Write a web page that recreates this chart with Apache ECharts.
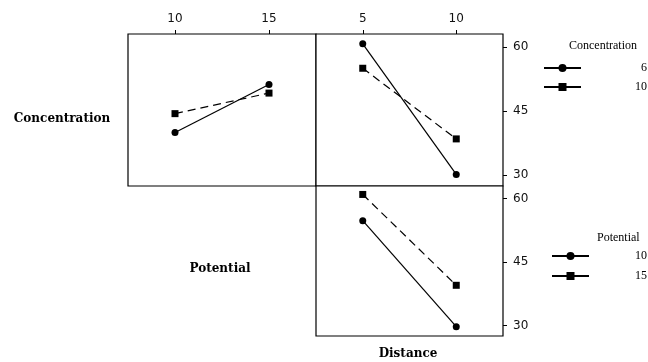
<!DOCTYPE html>
<html>
<head>
<meta charset="utf-8">
<script src="https://cdn.jsdelivr.net/npm/echarts@6/dist/echarts.min.js"></script>
<style>
  html, body { margin: 0; padding: 0; background: #fff; }
  #main { width: 648px; height: 362px; }
</style>
</head>
<body>
<div id="main"></div>
<script>
// Interaction plot data (response)
var potentialLevels = [10, 15];
var distanceLevels = [5, 10];
var responseTicks = [30, 45, 60];

var conc6ByPotential = [40.0, 51.2];
var conc10ByPotential = [44.4, 49.2];
var conc6ByDistance = [60.7, 30.2];
var conc10ByDistance = [55.0, 38.5];
var pot10ByDistance = [54.8, 29.7];
var pot15ByDistance = [61.0, 39.5];

var legendNames = { C6: '6', C10: '10', P10: '10', P15: '15' };

function pairs(xs, ys) {
    return xs.map(function (x, i) { return [x, ys[i]]; });
}

var chart = echarts.init(document.getElementById('main'));

var tickFont = { fontFamily: 'DejaVu Sans', fontSize: 12, color: '#111' };
var solid = { color: '#000', width: 1.2, type: 'solid' };
var dashed = { color: '#000', width: 1.2, type: [8, 5] };

function frame(left, top, width, height) {
    return { left: left, top: top, width: width, height: height, show: true,
             borderColor: '#000', borderWidth: 1.2, backgroundColor: '#fff' };
}

function mkSeries(name, grid, data, isSquare) {
    return {
        name: name, type: 'line',
        xAxisIndex: grid, yAxisIndex: grid,
        data: data,
        symbol: isSquare ? 'rect' : 'circle',
        symbolSize: 7,
        itemStyle: { color: '#000' },
        lineStyle: isSquare ? dashed : solid,
        clip: false,
        animation: false
    };
}

option = {
    backgroundColor: '#fff',
    grid: [
        frame(128, 34, 188, 152),
        frame(316, 34, 187, 152),
        frame(316, 186, 187, 150)
    ],
    xAxis: [
        {
            gridIndex: 0, type: 'value', position: 'top',
            min: 7.5, max: 17.5,
            axisLine: { show: false },
            splitLine: { show: false },
            axisTick: { show: true, customValues: potentialLevels, length: 4, lineStyle: { color: '#000' } },
            axisLabel: { customValues: potentialLevels, margin: 9, textStyle: tickFont }
        },
        {
            gridIndex: 1, type: 'value', position: 'top',
            min: 2.5, max: 12.5,
            axisLine: { show: false },
            splitLine: { show: false },
            axisTick: { show: true, customValues: distanceLevels, length: 4, lineStyle: { color: '#000' } },
            axisLabel: { customValues: distanceLevels, margin: 9, textStyle: tickFont }
        },
        {
            gridIndex: 2, type: 'value', position: 'bottom',
            min: 2.5, max: 12.5,
            axisLine: { show: false },
            splitLine: { show: false },
            axisTick: { show: false },
            axisLabel: { show: false }
        }
    ],
    yAxis: [
        {
            gridIndex: 0, type: 'value', min: 27.5, max: 63,
            axisLine: { show: false }, splitLine: { show: false },
            axisTick: { show: false }, axisLabel: { show: false }
        },
        {
            gridIndex: 1, type: 'value', position: 'right', min: 27.5, max: 63,
            axisLine: { show: false }, splitLine: { show: false },
            axisTick: { show: true, customValues: responseTicks, length: 4, lineStyle: { color: '#000' } },
            axisLabel: { customValues: responseTicks, margin: 10, textStyle: tickFont }
        },
        {
            gridIndex: 2, type: 'value', position: 'right', min: 27.5, max: 63,
            axisLine: { show: false }, splitLine: { show: false },
            axisTick: { show: true, customValues: responseTicks, length: 4, lineStyle: { color: '#000' } },
            axisLabel: { customValues: responseTicks, margin: 10, textStyle: tickFont }
        }
    ],
    legend: [
        {
            data: ['C6', 'C10'],
            orient: 'vertical', left: 543, top: 62, padding: 0,
            itemWidth: 37, itemHeight: 10, itemGap: 7,
            selectedMode: false,
            lineStyle: { type: 'solid' },
            formatter: function (n) { return '{v|' + legendNames[n] + '}'; },
            textStyle: { fontFamily: 'Liberation Serif', fontSize: 12, color: '#000',
                         rich: { v: { width: 61, align: 'right', lineHeight: 10 } } }
        },
        {
            data: ['P10', 'P15'],
            orient: 'vertical', left: 551, top: 250, padding: 0,
            itemWidth: 37, itemHeight: 10, itemGap: 8,
            selectedMode: false,
            lineStyle: { type: 'solid' },
            formatter: function (n) { return '{v|' + legendNames[n] + '}'; },
            textStyle: { fontFamily: 'Liberation Serif', fontSize: 12, color: '#000',
                         rich: { v: { align: 'left', lineHeight: 10, padding: [0, 0, 0, 41] } } }
        }
    ],
    graphic: [
        { type: 'text', x: 62, y: 119, style: { text: 'Concentration', font: 'bold 12px "DejaVu Serif"', fill: '#000', textAlign: 'center', textVerticalAlign: 'middle' } },
        { type: 'text', x: 220, y: 269, style: { text: 'Potential', font: 'bold 12px "DejaVu Serif"', fill: '#000', textAlign: 'center', textVerticalAlign: 'middle' } },
        { type: 'text', x: 408, y: 354, style: { text: 'Distance', font: 'bold 12px "DejaVu Serif"', fill: '#000', textAlign: 'center', textVerticalAlign: 'middle' } },
        { type: 'text', x: 569, y: 46, style: { text: 'Concentration', font: '12px "Liberation Serif"', fill: '#000', textAlign: 'left', textVerticalAlign: 'middle' } },
        { type: 'text', x: 597, y: 238, style: { text: 'Potential', font: '12px "Liberation Serif"', fill: '#000', textAlign: 'left', textVerticalAlign: 'middle' } }
    ],
    series: [
        mkSeries('C6', 0, pairs(potentialLevels, conc6ByPotential), false),
        mkSeries('C10', 0, pairs(potentialLevels, conc10ByPotential), true),
        mkSeries('C6', 1, pairs(distanceLevels, conc6ByDistance), false),
        mkSeries('C10', 1, pairs(distanceLevels, conc10ByDistance), true),
        mkSeries('P10', 2, pairs(distanceLevels, pot10ByDistance), false),
        mkSeries('P15', 2, pairs(distanceLevels, pot15ByDistance), true)
    ]
};

chart.setOption(option);

window.addEventListener('resize', function () {
    if (chart != null && chart != undefined) {
        chart.resize();
    }
});
</script>
</body>
</html>
